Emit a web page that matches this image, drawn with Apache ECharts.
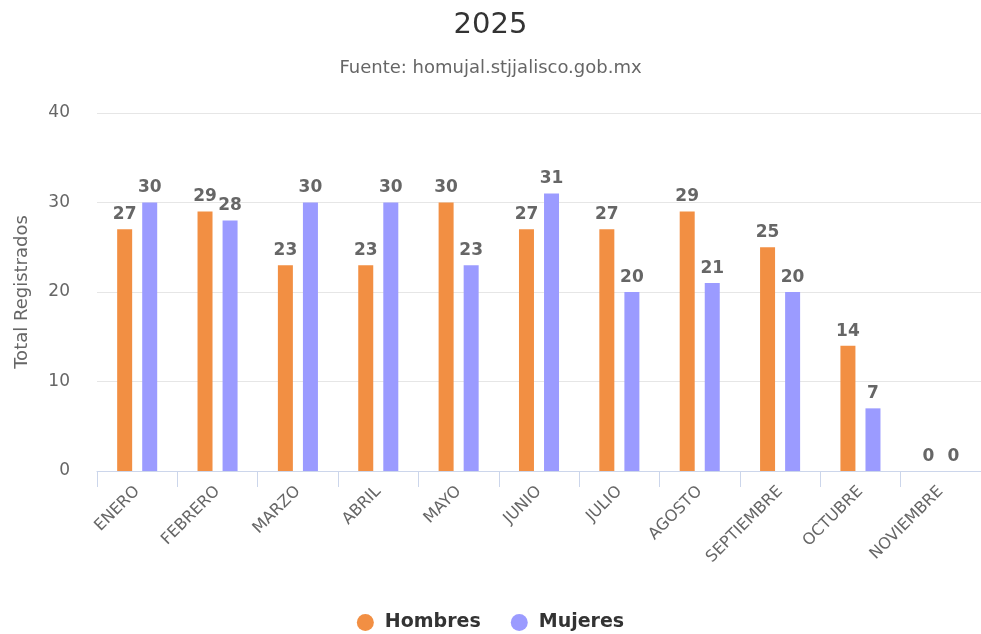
<!DOCTYPE html>
<html>
<head>
<meta charset="utf-8">
<script src="https://cdn.jsdelivr.net/npm/echarts@6/dist/echarts.min.js"></script>
<style>
  html, body { margin: 0; padding: 0; background: #fff; }
  #chart { width: 981px; height: 634px; }
</style>
</head>
<body>
<div id="chart"></div>
<script>
const months = ['ENERO', 'FEBRERO', 'MARZO', 'ABRIL', 'MAYO', 'JUNIO', 'JULIO', 'AGOSTO', 'SEPTIEMBRE', 'OCTUBRE', 'NOVIEMBRE'];
const hombres = [27, 29, 23, 23, 30, 27, 27, 29, 25, 14, 0];
const mujeres = [30, 28, 30, 30, 23, 31, 20, 21, 20, 7, 0];
const yTicks = [0, 10, 20, 30, 40];

const font = '"DejaVu Sans", Verdana, sans-serif';

const chart = echarts.init(document.getElementById('chart'), null, { renderer: 'canvas' });

const labelStyle = {
  show: true,
  position: 'top',
  distance: 6,
  color: '#666',
  fontFamily: font,
  fontWeight: 'bold',
  fontSize: 17
};

chart.setOption({
  backgroundColor: '#fff',
  animation: false,
  title: {
    text: '2025',
    subtext: 'Fuente: homujal.stjjalisco.gob.mx',
    left: 'center',
    top: 6,
    itemGap: 19,
    textStyle: { fontFamily: font, fontSize: 29, fontWeight: 'normal', color: '#333' },
    subtextStyle: { fontFamily: font, fontSize: 18, color: '#666' }
  },
  legend: {
    top: 608,
    left: 'center',
    icon: 'circle',
    itemWidth: 17,
    itemHeight: 17,
    itemGap: 30,
    textStyle: { fontFamily: font, fontSize: 19, fontWeight: 'bold', color: '#333', padding: [0, 0, 0, 6] },
    data: ['Hombres', 'Mujeres']
  },
  grid: {
    left: 97,
    top: 113,
    width: 887,
    height: 358,
    containLabel: false
  },
  xAxis: {
    type: 'category',
    data: months,
    axisLine: { lineStyle: { color: '#ccd6eb', width: 1 } },
    axisTick: { show: true, length: 16, lineStyle: { color: '#ccd6eb' } },
    axisLabel: {
      rotate: 45,
      margin: 18,
      interval: 0,
      color: '#666',
      fontFamily: font,
      fontSize: 16
    }
  },
  yAxis: {
    type: 'value',
    min: yTicks[0],
    max: yTicks[yTicks.length - 1],
    interval: 10,
    name: 'Total Registrados',
    nameLocation: 'middle',
    nameGap: 66,
    nameTextStyle: { fontFamily: font, fontSize: 18, color: '#666' },
    axisLine: { show: false },
    axisTick: { show: false },
    axisLabel: { margin: 27, color: '#666', fontFamily: font, fontSize: 17 },
    splitLine: { lineStyle: { color: '#e6e6e6' } }
  },
  series: [
    {
      name: 'Hombres',
      type: 'bar',
      data: hombres,
      barWidth: 15,
      barGap: '67%',
      itemStyle: { color: '#f28f43' },
      label: labelStyle
    },
    {
      name: 'Mujeres',
      type: 'bar',
      data: mujeres,
      barWidth: 15,
      itemStyle: { color: '#9b9bff' },
      label: labelStyle
    }
  ]
});
</script>
</body>
</html>
